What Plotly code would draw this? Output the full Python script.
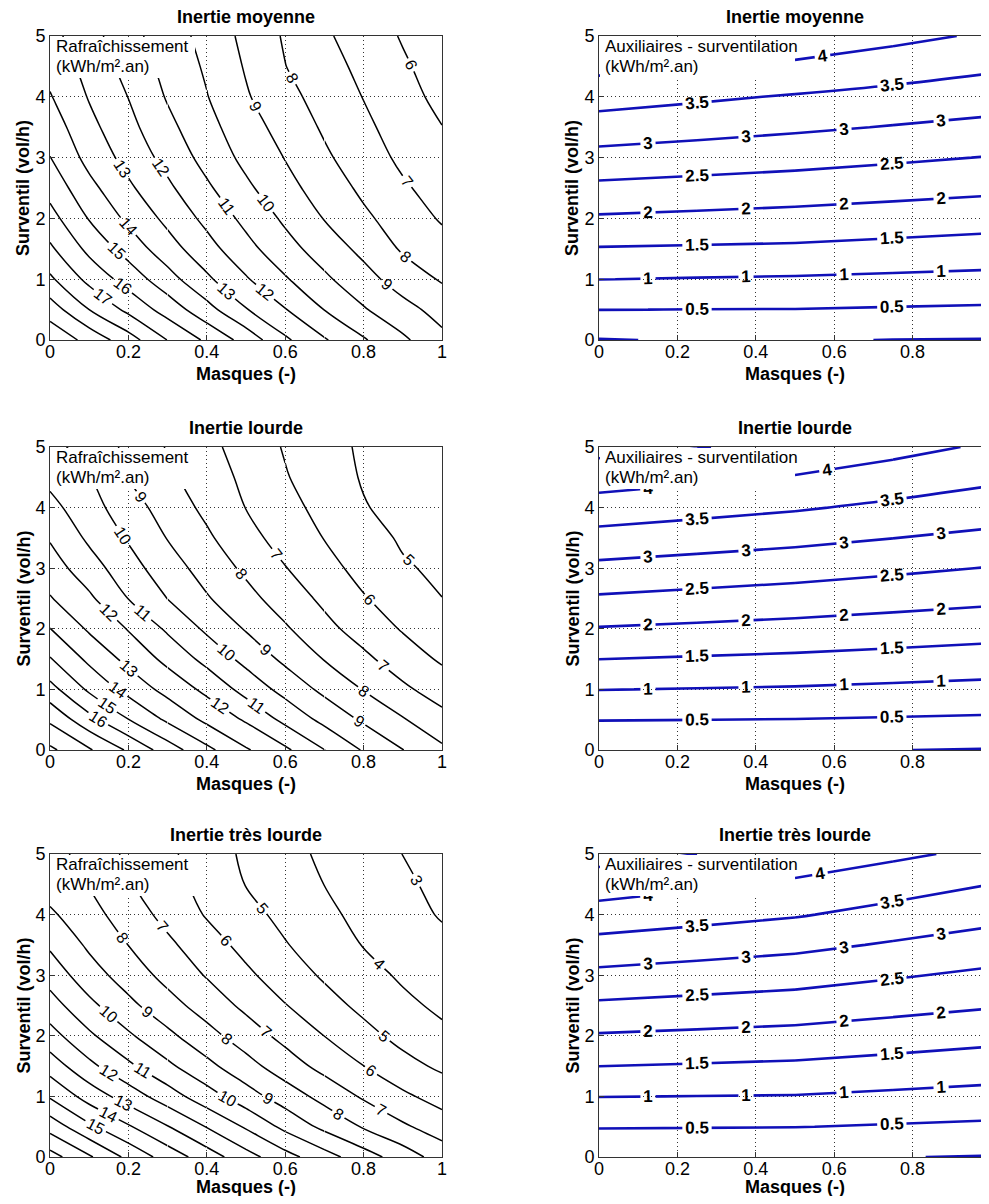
import math
import plotly.graph_objects as go

# ---------------- data ----------------
masques = [0.0, 0.1, 0.2, 0.3, 0.4, 0.5, 0.6, 0.7, 0.8, 0.9, 1.0]
masques_aux = [0.0, 0.25, 0.5, 0.75, 1.0]
surventil = [0.0, 0.5, 1.0, 1.5, 2.0, 2.5, 3.0, 3.5, 4.0, 4.5, 5.0]

# Rafraichissement (kWh/m2.an) - rows follow `surventil`, columns follow `masques`
raf_moyenne = [
    [20.8, 19.66, 18.44, 16.98, 15.82, 14.62, 13.17, 12.1, 11.1, 10.18, 9.25],
    [19.5, 18.0, 16.75, 15.58, 14.36, 13.06, 12.05, 10.98, 10.09, 9.33, 8.64],
    [18.18, 16.71, 15.58, 14.4, 13.18, 12.1, 11.1, 10.18, 9.36, 8.54, 7.9],
    [17.17, 15.74, 14.6, 13.42, 12.37, 11.32, 10.36, 9.54, 8.74, 7.88, 7.37],
    [16.36, 14.94, 13.79, 12.75, 11.74, 10.73, 9.83, 8.96, 8.19, 7.52, 6.9],
    [15.64, 14.29, 13.17, 12.19, 11.16, 10.19, 9.33, 8.54, 7.8, 7.13, 6.59],
    [15.02, 13.68, 12.66, 11.67, 10.66, 9.74, 8.96, 8.16, 7.47, 6.8, 6.28],
    [14.53, 13.28, 12.29, 11.26, 10.32, 9.43, 8.62, 7.87, 7.2, 6.58, 6.02],
    [14.07, 12.93, 11.98, 10.91, 10.04, 9.1, 8.31, 7.61, 6.97, 6.34, 5.74],
    [13.66, 12.66, 11.65, 10.68, 9.86, 8.91, 8.02, 7.38, 6.75, 6.13, 5.56],
    [13.3, 12.38, 11.33, 10.48, 9.67, 8.74, 7.89, 7.15, 6.52, 5.92, 5.35],
]
raf_lourde = [
    [19.2, 18.1, 16.86, 15.5, 14.25, 13.11, 12.18, 11.02, 9.91, 9.02, 8.19],
    [17.82, 16.33, 15.02, 13.83, 12.78, 11.88, 10.74, 9.73, 8.85, 8.08, 7.33],
    [16.36, 14.82, 13.67, 12.67, 11.76, 10.65, 9.67, 8.76, 7.96, 7.19, 6.53],
    [15.07, 13.78, 12.72, 11.74, 10.7, 9.71, 8.79, 7.96, 7.22, 6.48, 5.87],
    [14.02, 12.86, 11.94, 10.84, 9.82, 8.92, 8.12, 7.29, 6.57, 5.92, 5.44],
    [13.07, 12.18, 10.98, 9.98, 9.09, 8.31, 7.54, 6.79, 6.07, 5.53, 5.01],
    [12.48, 11.44, 10.4, 9.45, 8.6, 7.81, 7.04, 6.32, 5.69, 5.11, 4.81],
    [11.91, 10.82, 9.9, 8.96, 8.16, 7.33, 6.61, 5.97, 5.38, 4.88, 4.62],
    [11.3, 10.39, 9.45, 8.56, 7.77, 6.98, 6.33, 5.69, 5.06, 4.7, 4.43],
    [10.74, 10.08, 8.98, 8.2, 7.48, 6.79, 6.07, 5.47, 4.92, 4.55, 4.23],
    [10.19, 9.74, 8.75, 7.93, 7.27, 6.59, 5.92, 5.36, 4.85, 4.42, 4.08],
]
raf_tres_lourde = [
    [18.4, 17.13, 15.75, 14.56, 13.5, 12.38, 11.36, 10.4, 9.44, 8.52, 7.55],
    [16.6, 15.2, 14.11, 13.05, 11.95, 10.88, 9.74, 8.75, 7.91, 7.15, 6.52],
    [14.89, 13.58, 12.53, 11.47, 10.42, 9.43, 8.52, 7.67, 6.87, 6.19, 5.6],
    [13.54, 12.25, 11.2, 10.2, 9.27, 8.36, 7.48, 6.69, 6.01, 5.32, 4.82],
    [12.38, 11.18, 10.15, 9.23, 8.35, 7.5, 6.71, 5.99, 5.31, 4.7, 4.22],
    [11.42, 10.25, 9.25, 8.38, 7.56, 6.78, 6.04, 5.37, 4.76, 4.22, 3.81],
    [10.59, 9.43, 8.55, 7.69, 6.93, 6.19, 5.5, 4.87, 4.34, 3.86, 3.51],
    [9.85, 8.83, 7.99, 7.2, 6.42, 5.71, 5.06, 4.5, 3.96, 3.55, 3.21],
    [9.16, 8.35, 7.52, 6.69, 5.92, 5.31, 4.74, 4.21, 3.74, 3.3, 2.93],
    [8.56, 7.96, 7.09, 6.37, 5.67, 4.97, 4.49, 3.99, 3.57, 3.15, 2.78],
    [8.35, 7.64, 6.81, 6.19, 5.49, 4.83, 4.31, 3.83, 3.41, 2.99, 2.65],
]

# Auxiliaires - surventilation (kWh/m2.an) - rows follow `surventil`, columns follow `masques_aux`
aux_moyenne = [
    [-0.02, 0.03, 0.02, -0.005, -0.02],
    [0.505, 0.495, 0.49, 0.46, 0.43],
    [1.005, 0.975, 0.95, 0.91, 0.87],
    [1.47, 1.445, 1.42, 1.355, 1.29],
    [1.94, 1.89, 1.84, 1.77, 1.70],
    [2.39, 2.325, 2.26, 2.18, 2.10],
    [2.84, 2.76, 2.68, 2.58, 2.48],
    [3.28, 3.18, 3.08, 2.975, 2.87],
    [3.70, 3.58, 3.46, 3.345, 3.23],
    [4.13, 4.02, 3.91, 3.745, 3.58],
    [4.5, 4.42, 4.33, 4.13, 3.93],
]
aux_lourde = [
    [0.02, 0.02, 0.02, 0.005, -0.02],
    [0.515, 0.502, 0.49, 0.46, 0.43],
    [1.01, 0.982, 0.954, 0.907, 0.86],
    [1.502, 1.456, 1.41, 1.345, 1.28],
    [1.97, 1.91, 1.85, 1.775, 1.7],
    [2.44, 2.36, 2.28, 2.19, 2.1],
    [2.88, 2.795, 2.71, 2.595, 2.48],
    [3.33, 3.23, 3.13, 3.007, 2.885],
    [3.78, 3.665, 3.55, 3.4, 3.25],
    [4.23, 4.1, 3.97, 3.785, 3.6],
    [4.66, 4.52, 4.38, 4.155, 3.93],
]
aux_tres_lourde = [
    [0.02, 0.02, 0.02, 0.01, -0.02],
    [0.53, 0.52, 0.51, 0.46, 0.41],
    [1.01, 0.995, 0.98, 0.91, 0.84],
    [1.502, 1.461, 1.42, 1.335, 1.25],
    [1.96, 1.905, 1.85, 1.745, 1.64],
    [2.42, 2.35, 2.28, 2.16, 2.04],
    [2.88, 2.79, 2.7, 2.55, 2.4],
    [3.34, 3.23, 3.125, 2.95, 2.78],
    [3.79, 3.665, 3.54, 3.345, 3.15],
    [4.25, 4.085, 3.92, 3.71, 3.5],
    [4.69, 4.5, 4.31, 4.095, 3.88],
]

row_titles = ["Inertie moyenne", "Inertie lourde", "Inertie très lourde"]
x_tick_vals = [0, 0.2, 0.4, 0.6, 0.8, 1]
x_tick_text = ["0", "0.2", "0.4", "0.6", "0.8", "1"]
y_tick_vals = [0, 1, 2, 3, 4, 5]
y_tick_text = ["0", "1", "2", "3", "4", "5"]
box_left = ["Rafraîchissement", "(kWh/m².an)"]
box_right = ["Auxiliaires - surventilation", "(kWh/m².an)"]
x_title = "Masques (-)"
y_title = "Surventil (vol/h)"
aux_step = 0.5

# ---------------- layout (page pixels; the page body keeps an 8 px margin) ----------------
PAGE_OFF = 8
W, H = 981, 1188
FONT = "Liberation Sans, Arial, Helvetica, sans-serif"
AXIS_LEN = 392                       # pixel length of the 0..1 x axis
col_px = [(50, 442), (599, 989)]      # page px (right panel is clipped by the window)
row_px = [(36, 340), (447, 750), (854, 1157)]
xtitle_gap = [34, 34, 30]
box_w = [145, 196]
box_h = 42
# column slices: one contour trace per slice and per level (gives several labels per line)
left_blocks = [[(0, 5), (4, 8), (7, 11)], [(0, 4), (3, 7), (6, 11)]]
right_blocks = [[(0, 2), (1, 3), (2, 4), (3, 5)], [(0, 3), (2, 5)]]


def px_x(p):
    return (p - PAGE_OFF) / W


def px_y(p):
    return 1 - (p - PAGE_OFF) / H


def cols(z, a, b):
    return [row[a:b] for row in z]


fig = go.Figure()
layout = dict(
    width=W, height=H, autosize=False,
    margin=dict(l=0, r=0, t=0, b=0, autoexpand=False),
    paper_bgcolor="white", plot_bgcolor="white",
    showlegend=False,
    font=dict(family=FONT, size=18, color="black"),
)
annotations = []
shapes = []

left_data = [raf_moyenne, raf_lourde, raf_tres_lourde]
right_data = [aux_moyenne, aux_lourde, aux_tres_lourde]

left_line = dict(color="black", width=1.5, smoothing=1.0)
right_line = dict(color="#1010b8", width=2.6, smoothing=1.0)
left_font = dict(family=FONT, size=16, color="black")
right_font = dict(family=FONT, size=17, color="black", weight="bold")

for r in range(3):
    for c in range(2):
        k = r * 2 + c + 1
        xa = "x" if k == 1 else f"x{k}"
        ya = "y" if k == 1 else f"y{k}"
        if c == 0:
            z, xs = left_data[r], masques
            zmin = min(min(row) for row in z)
            zmax = max(max(row) for row in z)
            levels = list(range(math.ceil(zmin), math.floor(zmax) + 1))
            block_sets, line, lfont, fmt = left_blocks, left_line, left_font, ".0f"
        else:
            z, xs = right_data[r], masques_aux
            zmax = max(max(row) for row in z)
            levels = [i * aux_step for i in range(int(zmax / aux_step) + 1)]
            block_sets, line, lfont, fmt = right_blocks, right_line, right_font, ".1~f"
        for li, lev in enumerate(levels):
            for a, b in block_sets[li % 2]:
                fig.add_trace(go.Contour(
                    x=xs[a:b], y=surventil, z=cols(z, a, b), xaxis=xa, yaxis=ya,
                    autocontour=False,
                    contours=dict(coloring="none", start=lev, end=lev, size=1,
                                  showlabels=True, labelformat=fmt, labelfont=lfont),
                    line=line, showscale=False, hoverinfo="skip",
                ))

        x0, x1 = col_px[c]
        y0, y1 = row_px[r]
        axis_common = dict(
            showline=True, linecolor="#333333", linewidth=1,
            showgrid=True, gridcolor="#333333", griddash="1px,3px", gridwidth=1,
            ticks="inside", ticklen=5, tickcolor="#333333",
            zeroline=False, tickfont=dict(family=FONT, size=18, color="black"),
        )
        x_end = (x1 - x0) / AXIS_LEN
        layout["xaxis" if k == 1 else f"xaxis{k}"] = dict(
            domain=[px_x(x0), min(1.0, px_x(x1))], range=[0, x_end], anchor=ya, mirror=True,
            tickvals=x_tick_vals, ticktext=x_tick_text, ticklabelstandoff=-5, **axis_common)
        layout["yaxis" if k == 1 else f"yaxis{k}"] = dict(
            domain=[px_y(y1), px_y(y0)], range=[0, 5], anchor=xa, mirror=(c == 0),
            tickvals=y_tick_vals, ticktext=y_tick_text, **axis_common)

        xc = x0 + AXIS_LEN / 2
        annotations.append(dict(text=f"<b>{row_titles[r]}</b>", x=px_x(xc), y=px_y(y0 - 19),
                                xref="paper", yref="paper", showarrow=False,
                                xanchor="center", yanchor="middle",
                                font=dict(family=FONT, size=18, color="black")))
        annotations.append(dict(text=f"<b>{x_title}</b>", x=px_x(xc), y=px_y(y1 + xtitle_gap[r]),
                                xref="paper", yref="paper", showarrow=False,
                                xanchor="center", yanchor="middle",
                                font=dict(family=FONT, size=18, color="black")))
        annotations.append(dict(text=f"<b>{y_title}</b>", x=px_x(x0 - 27), y=px_y((y0 + y1) / 2),
                                xref="paper", yref="paper", showarrow=False, textangle=-90,
                                xanchor="center", yanchor="middle",
                                font=dict(family=FONT, size=18, color="black")))
        # white text box in the upper-left corner of the panel
        dom_w = min(x1, PAGE_OFF + W) - x0
        shapes.append(dict(type="rect", layer="above", xref=f"{xa} domain", yref=f"{ya} domain",
                           x0=1.0 / dom_w, x1=box_w[c] / dom_w,
                           y0=1 - box_h / (y1 - y0), y1=1 - 1.0 / (y1 - y0),
                           fillcolor="white", line=dict(width=0)))
        lines = box_left if c == 0 else box_right
        for i, txt in enumerate(lines):
            annotations.append(dict(text=txt, x=0, y=1, xref=f"{xa} domain", yref=f"{ya} domain",
                                    xanchor="left", yanchor="middle", align="left",
                                    showarrow=False, xshift=4, yshift=-(10 + 20 * i),
                                    font=dict(family=FONT, size=17, color="black")))

layout["annotations"] = annotations
layout["shapes"] = shapes
fig.update_layout(**layout)

fig.write_html("out.html", config={"displayModeBar": False})
